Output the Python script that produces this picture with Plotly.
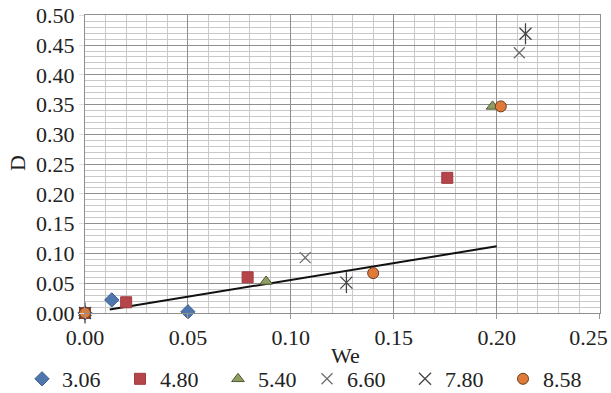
import plotly.graph_objects as go

# ---- data ----
series_names = ["3.06", "4.80", "5.40", "6.60", "7.80", "8.58"]
we_306 = [0.0, 0.013, 0.050]
d_306 = [0.0, 0.022, 0.002]
we_480 = [0.0, 0.020, 0.079, 0.176]
d_480 = [0.0, 0.018, 0.060, 0.227]
we_540 = [0.0, 0.088, 0.198]
d_540 = [0.0, 0.053, 0.347]
we_660 = [0.0, 0.107, 0.211]
d_660 = [0.0, 0.093, 0.437]
we_780 = [0.0, 0.127, 0.214]
d_780 = [0.0, 0.051, 0.469]
we_858 = [0.0, 0.140, 0.202]
d_858 = [0.0, 0.067, 0.347]
trend_we = [0.012, 0.200]
trend_d = [0.006, 0.112]

x_ticks = [0.0, 0.05, 0.10, 0.15, 0.20, 0.25]
x_ticklabels = ["0.00", "0.05", "0.10", "0.15", "0.20", "0.25\u00a0\u00a0\u00a0\u00a0"]
y_ticks = [0.0, 0.05, 0.10, 0.15, 0.20, 0.25, 0.30, 0.35, 0.40, 0.45, 0.50]

FONT = "Liberation Serif"
TXT = "#222222"
fig = go.Figure()

# trend line
fig.add_trace(go.Scatter(x=trend_we, y=trend_d, mode="lines",
                         line=dict(color="#111111", width=2), showlegend=False,
                         hoverinfo="skip"))

fig.add_trace(go.Scatter(x=we_306, y=d_306, mode="markers", name=series_names[0],
                         legend="legend",
                         marker=dict(symbol="diamond", size=11, color="#4F76AD",
                                     line=dict(color="#3A5F93", width=1))))
fig.add_trace(go.Scatter(x=we_480, y=d_480, mode="markers", name=series_names[1],
                         legend="legend",
                         marker=dict(symbol="square", size=11, color="#B5454B",
                                     line=dict(color="#9E3A40", width=1))))
fig.add_trace(go.Scatter(x=we_540, y=d_540, mode="markers", name=series_names[2],
                         legend="legend",
                         marker=dict(symbol="triangle-up", size=11, color="#8E9E62",
                                     line=dict(color="#4F5A35", width=1))))
fig.add_trace(go.Scatter(x=we_660, y=d_660, mode="markers", name=series_names[3],
                         legend="legend2",
                         marker=dict(symbol="x-thin-open", size=11, color="#6E6E6E",
                                     line=dict(color="#6E6E6E", width=1.3))))
fig.add_trace(go.Scatter(x=we_780, y=d_780, mode="markers", name=series_names[4],
                         legend="legend2", legendgroup="s780",
                         marker=dict(symbol="x-thin-open", size=12, color="#444444",
                                     line=dict(color="#444444", width=1.3))))
fig.add_trace(go.Scatter(x=we_780, y=d_780, mode="markers", showlegend=False,
                         legend="legend2", legendgroup="s780",
                         marker=dict(symbol="line-ns-open", size=15, color="#444444",
                                     line=dict(color="#444444", width=1.3))))
fig.add_trace(go.Scatter(x=we_858, y=d_858, mode="markers", name=series_names[5],
                         legend="legend2",
                         marker=dict(symbol="circle", size=11, color="#DE7B3A",
                                     line=dict(color="#6B3A1A", width=1))))

axis_font = dict(family=FONT, size=22, color=TXT)

fig.update_xaxes(range=[0, 0.2502], tickvals=x_ticks, ticktext=x_ticklabels,
                 tickfont=axis_font, showgrid=True, gridcolor="#8F8F8F", gridwidth=1,
                 minor=dict(dtick=0.01, showgrid=True, gridcolor="#C9C9C9", gridwidth=1,
                            ticks=""),
                 ticks="outside", ticklen=5, tickcolor="#999999", automargin=False,
                 ticklabeloverflow="allow",
                 showline=True, linecolor="#8F8F8F", mirror=True, zeroline=False)
fig.update_yaxes(range=[0, 0.5005], tickvals=y_ticks, ticktext=[f"{v:.2f}" for v in y_ticks],
                 tickfont=axis_font, showgrid=True, gridcolor="#8F8F8F", gridwidth=1,
                 minor=dict(dtick=0.01, showgrid=True, gridcolor="#C9C9C9", gridwidth=1,
                            ticks=""),
                 ticks="outside", ticklen=5, tickcolor="#DDDDDD", automargin=False,
                 ticklabeloverflow="allow",
                 showline=True, linecolor="#8F8F8F", mirror=True, zeroline=False)

fig.update_traces(cliponaxis=False, selector=dict(type="scatter"))

legend_common = dict(orientation="h", xanchor="left", xref="container",
                     yref="container", y=(393 - 379) / 393, yanchor="middle",
                     font=dict(family=FONT, size=22, color=TXT),
                     itemwidth=30, entrywidth=53, tracegroupgap=0,
                     bgcolor="rgba(0,0,0,0)")

fig.update_layout(
    width=611, height=393,
    margin=dict(l=85, r=11, t=15, b=80),
    paper_bgcolor="white", plot_bgcolor="white",
    font=dict(family=FONT, size=22, color=TXT),
    legend=dict(x=22 / 611, **legend_common),
    legend2=dict(x=307 / 611, **legend_common),
    annotations=[
        dict(text="We", xref="paper", yref="paper", x=(345 - 85) / 515,
             y=(313 - 355) / 298,
             showarrow=False, font=dict(family=FONT, size=22, color=TXT),
             xanchor="center", yanchor="middle"),
        dict(text="D", xref="paper", yref="paper", x=(18 - 85) / 515,
             y=(313 - 163) / 298,
             showarrow=False, textangle=-90,
             font=dict(family=FONT, size=22, color=TXT),
             xanchor="center", yanchor="middle"),
    ],
)

fig.write_html("out.html")
